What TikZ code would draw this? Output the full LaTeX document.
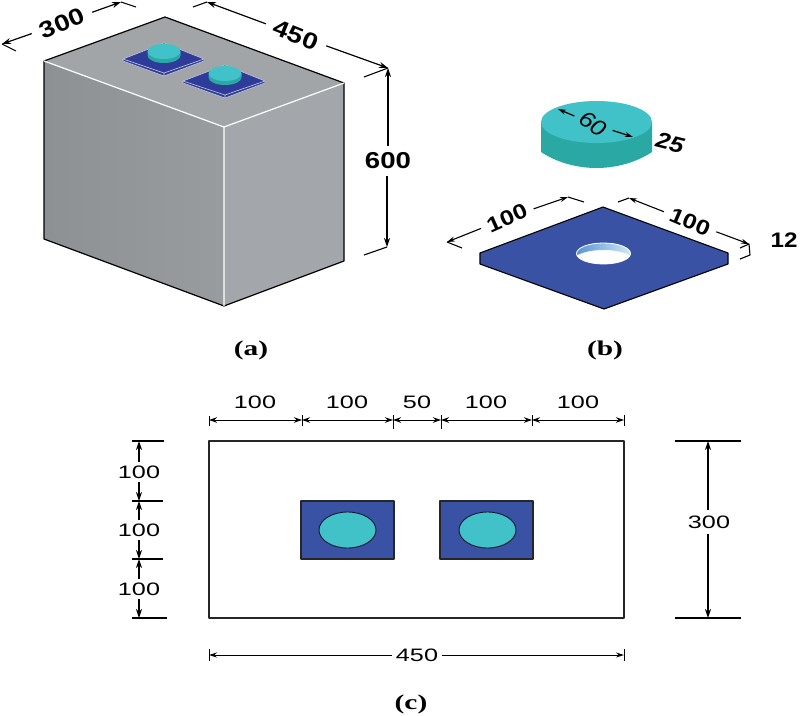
\documentclass[tikz,border=0pt]{standalone}
\usepackage{fontspec}
\usepackage{graphicx}
\setmainfont{Liberation Sans}
\newfontfamily\capfont{Liberation Serif}
\usetikzlibrary{arrows.meta}
\definecolor{plateblue}{HTML}{3A52A4}
\definecolor{platedark}{HTML}{2F3B98}
\definecolor{cyltop}{HTML}{41C2C8}
\definecolor{cylside}{HTML}{2AA8A4}
\definecolor{faceleft}{HTML}{8D9194}
\definecolor{faceleftb}{HTML}{999C9F}
\definecolor{faceright}{HTML}{A3A7AB}
\definecolor{facetop}{HTML}{A2A5A8}
\definecolor{holea}{HTML}{4E8FD0}
\definecolor{holeb}{HTML}{D8EEF8}
\newcommand{\widetxt}[2]{\scalebox{#1}[1]{#2}}
\tikzset{
  dimline/.style={line width=1.2pt,black,-{Stealth[length=9pt,width=6pt]}},
  thinarrow/.style={line width=1.1pt,black,-{Stealth[length=8pt,width=5pt]}},
  extline/.style={line width=1.1pt,black},
  isolabel/.style={font=\fontsize{23}{23}\selectfont\bfseries,inner sep=1pt,outer sep=8pt},
  planlabel/.style={font=\fontsize{18}{18}\selectfont,inner sep=1pt},
  caption/.style={font=\capfont\fontsize{21}{21}\selectfont\bfseries,inner sep=0pt},
  outline/.style={line width=1.2pt,black},
  whiteedge/.style={line width=1.2pt,white},
  planarrow/.style={line width=0.9pt,{Stealth[length=8pt,width=5.5pt]}-{Stealth[length=8pt,width=5.5pt]}}
}
\begin{document}
\begin{tikzpicture}[x=1pt,y=-1pt,line join=round]
\useasboundingbox (0,0) rectangle (800,715);
% --- (a) box
\coordinate (bk) at (165,17);
\coordinate (tl) at (44,61);
\coordinate (tf) at (224,127);
\coordinate (tr) at (344,83);
\coordinate (bl) at (44,239);
\coordinate (bf) at (224,306);
\coordinate (br) at (344,261);
\shade[left color=faceleft,right color=faceleftb] (tl)--(tf)--(bf)--(bl)--cycle;
\fill[faceright] (tf)--(tr)--(br)--(bf)--cycle;
\fill[facetop] (bk)--(tr)--(tf)--(tl)--cycle;
\draw[outline] (tl)--(bk)--(tr)--(br)--(bf)--(bl)--cycle;
\draw[whiteedge] (tl)--(tf)--(tr) (tf)--(bf);
% plates on the box
\foreach \dy/\lx/\rx/\cx in {0/123/204/164,22/183/265/225}{
  \filldraw[fill=platedark,draw=white!70!platedark,line width=0.6pt] (\lx,59+\dy)--(\cx,43+\dy)--(\rx,59+\dy)--(\rx,61+\dy)--(\cx,76+\dy)--(\lx,61+\dy)--cycle;
  \draw[white!75!platedark,line width=0.6pt] (\lx,59+\dy)--(\cx,73+\dy)--(\rx,59+\dy) (\cx,73+\dy)--(\cx,76+\dy);
  \fill[cylside] (\cx-16.5,52+\dy)--(\cx-16.5,55.5+\dy) arc[start angle=180,end angle=0,x radius=16.5,y radius=7.5]--(\cx+16.5,52+\dy)--cycle;
  \fill[cyltop] (\cx,51.5+\dy) ellipse[x radius=16.5,y radius=7.5];
}
% --- (a) dimensions
\coordinate (p1) at (2,44);
\coordinate (p1e) at (16,51);
\coordinate (p2) at (121,2);
\coordinate (p2e) at (136,7);
\coordinate (q1) at (207,2);
\coordinate (q1e) at (193,7);
\coordinate (q2) at (388,68);
\coordinate (q2e) at (364,77);
\coordinate (r2) at (387,247);
\coordinate (r2e) at (364,255);
\node[isolabel,rotate=23] (d300) at (62,23) {\widetxt{1.2}{300}};
\node[isolabel,rotate=-22] (d450) at (296,35) {\widetxt{1.2}{450}};
\node[isolabel,outer sep=6pt] (d600) at (388,161) {\widetxt{1.2}{600}};
\draw[dimline] (d300)--(p1);
\draw[dimline] (d300)--(p2);
\draw[dimline] (d450)--(q1);
\draw[dimline] (d450)--(q2);
\draw[dimline] (d600.north -| q2)--(q2);
\draw[dimline] (d600.south -| r2)--(r2);
\draw[extline] (p1)--(p1e) (p2)--(p2e) (q1)--(q1e) (q2)--(q2e) (r2)--(r2e);
% --- (b) cylinder
\fill[cylside] (541,122)--(541,152)
  .. controls (556,162) and (576,168) .. (596.5,168)
  .. controls (617,168) and (637,162) .. (652,152)--(652,122)--cycle;
\fill[cyltop] (596.5,122) ellipse[x radius=55.5,y radius=21];
\coordinate (c1) at (558,109);
\coordinate (c2) at (633,137);
\node[font=\fontsize{22}{22}\selectfont\itshape,inner sep=1pt,outer sep=5pt,rotate=-32] (d60) at (593,124) {\widetxt{1.15}{60}};
\draw[thinarrow,line width=1.2pt] (d60)--(c1);
\draw[thinarrow,line width=1.2pt] (d60)--(c2);
\node[font=\fontsize{22}{22}\selectfont\bfseries\itshape,inner sep=0pt,rotate=-14] (d25) at (670,143) {\widetxt{1.15}{25}};
% --- (b) plate
\coordinate (pt) at (603,207);
\coordinate (pl) at (480,253);
\coordinate (pr) at (728,253);
\coordinate (plb) at (480,264);
\coordinate (prb) at (728,264);
\coordinate (pb) at (604,309);
\filldraw[fill=plateblue,draw=black,line width=1.1pt] (pt)--(pr)--(prb)--(pb)--(plb)--(pl)--cycle;
\fill[white] (603.5,253.5) ellipse[x radius=27,y radius=10.5];
\begin{scope}
  \clip (603.5,253.5) ellipse[x radius=27,y radius=10.5];
  \shade[left color=holea,right color=holeb,even odd rule]
    (575,240) rectangle (632,266) (603.5,261) ellipse[x radius=31,y radius=11];
\end{scope}
\draw[white,line width=0.8pt] (603.5,253.5) ellipse[x radius=27,y radius=10.5];
\coordinate (u1) at (447,242);
\coordinate (u1e) at (462,248);
\coordinate (u2) at (568,197);
\coordinate (u2e) at (584,202);
\coordinate (v1) at (629,198);
\coordinate (v1e) at (618,202);
\coordinate (v2) at (749,244);
\coordinate (v2e) at (740,248);
\coordinate (v3) at (750,255);
\coordinate (v3e) at (740,259);
\node[isolabel,rotate=24,font=\fontsize{21}{21}\selectfont\bfseries,outer sep=6pt] (d100a) at (507,218) {\widetxt{1.2}{100}};
\node[isolabel,rotate=-23,font=\fontsize{21}{21}\selectfont\bfseries,outer sep=6pt] (d100b) at (690,222) {\widetxt{1.2}{100}};
\draw[thinarrow] (d100a)--(u1);
\draw[thinarrow] (d100a)--(u2);
\draw[thinarrow] (d100b)--(v1);
\draw[thinarrow] (d100b)--(v2);
\draw[extline] (u1)--(u1e) (u2)--(u2e) (v1)--(v1e) (v2e)--(v2)--(v3)--(v3e);
\node[font=\fontsize{21}{21}\selectfont\bfseries,inner sep=0pt] (d12) at (784,240) {\widetxt{1.15}{12}};
% --- captions
\node[caption] (capa) at (251,350) {\widetxt{1.4}{(a)}};
\node[caption] (capb) at (605,350) {\widetxt{1.4}{(b)}};
\node[caption] (capc) at (411,704) {\widetxt{1.4}{(c)}};
% --- (c) plan
\draw[line width=1.3pt,black!85] (209,441) rectangle (624,618);
\foreach \sx/\ex in {301/347.5,440/487.5}{
  \filldraw[fill=plateblue,draw=black!85,line width=1.2pt] (\sx,501) rectangle (\sx+93,559);
  \filldraw[fill=cyltop,draw=black!70!plateblue,line width=0.9pt] (\ex,530) ellipse[x radius=28.5,y radius=18];
}
% top chain
\foreach \n/\x/\ya/\yb in {t0/209/416/426,t1/302/415/426,t2/393/415/429,t3/441/415/429,t4/532/415/426,t5/624/415/426}{
  \coordinate (\n) at (\x,420);
  \draw[line width=1pt] (\x,\ya)--(\x,\yb);
}
\draw[planarrow] (t0)--(t1);
\draw[planarrow] (t1)--(t2);
\draw[planarrow] (t2)--(t3);
\draw[planarrow] (t3)--(t4);
\draw[planarrow] (t4)--(t5);
\foreach \n/\x/\t in {a/255/100,b/347/100,c/417/50,d/486/100,e/578/100}{
  \node[planlabel] (top\n) at (\x,402.5) {\widetxt{1.4}{\t}};
}
% left chain
\coordinate (l0) at (139,441);
\coordinate (l1) at (139,501);
\coordinate (l2) at (139,559);
\coordinate (l3) at (139,618);
\draw[extline] (132,441)--(164,441) (132,501)--(163,501) (132,559)--(163,559) (132,618)--(167,618);
\node[planlabel,outer sep=3pt] (left1) at (139,472) {\widetxt{1.4}{100}};
\node[planlabel,outer sep=3pt] (left2) at (139,530) {\widetxt{1.4}{100}};
\node[planlabel,outer sep=3pt] (left3) at (139,589) {\widetxt{1.4}{100}};
\draw[dimline] (left1.north -| l0)--(l0);
\draw[dimline] (left1.south -| l0)--(l1);
\draw[dimline] (left2.north -| l0)--(l1);
\draw[dimline] (left2.south -| l0)--(l2);
\draw[dimline] (left3.north -| l0)--(l2);
\draw[dimline] (left3.south -| l0)--(l3);
% right dim
\coordinate (rr0) at (708,441);
\coordinate (rr1) at (708,618);
\draw[extline] (675,441)--(741,441) (675,618)--(741,618);
\node[planlabel,outer sep=5pt] (right300) at (709,522) {\widetxt{1.4}{300}};
\draw[dimline] (right300.north -| rr0)--(rr0);
\draw[dimline] (right300.south -| rr0)--(rr1);
% bottom dim
\coordinate (b0) at (209,655);
\coordinate (b1) at (624,655);
\draw[line width=1pt] (209,649)--(209,661) (624,649)--(624,661);
\node[planlabel,outer sep=3pt] (bot450) at (417,655) {\widetxt{1.4}{450}};
\draw[thinarrow,line width=0.9pt] (bot450)--(b0);
\draw[thinarrow,line width=0.9pt] (bot450)--(b1);
\end{tikzpicture}
\end{document}
